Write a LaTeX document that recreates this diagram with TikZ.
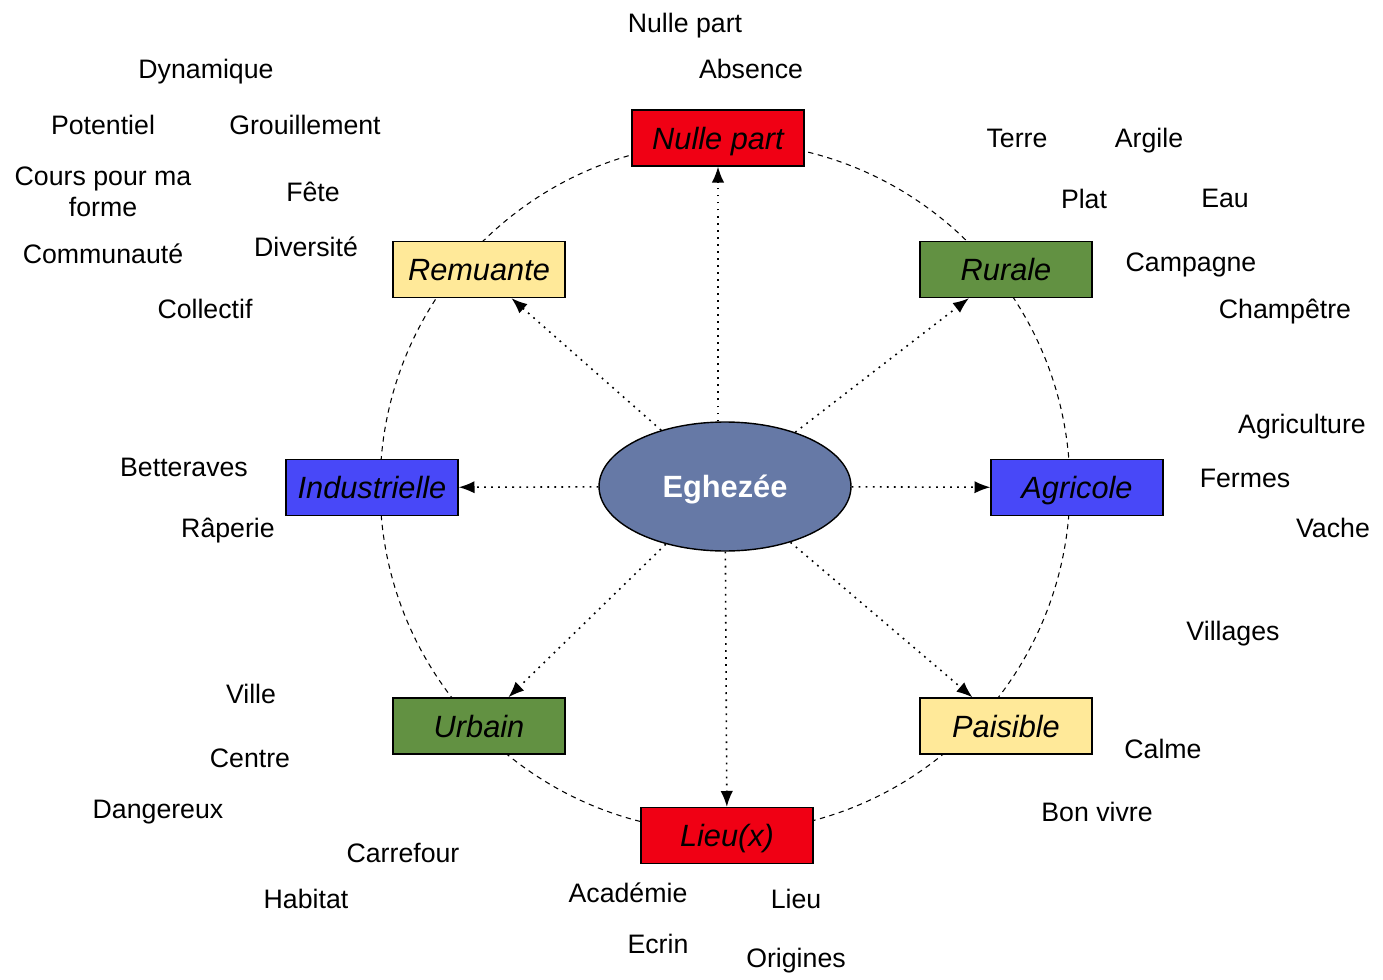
\documentclass[tikz,border=0pt]{standalone}
\usepackage{fontspec}
\setmainfont{Liberation Sans}
\usetikzlibrary{arrows.meta,shapes.geometric}
\definecolor{boxred}{RGB}{240,0,20}
\definecolor{boxyellow}{RGB}{255,233,153}
\definecolor{boxgreen}{RGB}{98,145,66}
\definecolor{boxblue}{RGB}{72,72,248}
\definecolor{blobblue}{RGB}{102,121,166}

\begin{document}
\begin{tikzpicture}[x=0.02cm, y=-0.02cm,
  theme/.style={draw=black, line width=0.8pt, minimum width=3.44cm, minimum height=1.12cm,
    inner sep=0pt, text height=12.6pt, text depth=0pt, font=\fontsize{17.5}{20}\selectfont\itshape},
  lbl/.style={anchor=base, inner sep=0pt, font=\fontsize{15.2}{17.6}\selectfont},
  ring/.style={line width=0.6pt, dash pattern=on 3pt off 2.6pt},
  link/.style={line width=0.9pt, dash pattern=on 1pt off 3pt,
    -{Latex[length=9pt,width=7pt]}}]
\useasboundingbox (0,0) rectangle (1383,980);
\coordinate (mid) at (725,487);
\draw[ring] (mid) circle [radius=6.9cm];

\node[ellipse, draw=black, line width=0.8pt, fill=blobblue, minimum width=5.04cm, minimum height=2.58cm,
  text height=12.6pt, text depth=0pt, font=\fontsize{17.5}{20}\selectfont\bfseries, text=white] (eg) at (725,486.5) {Eghezée};
\node[theme, fill=boxred] (nul) at (718,138) {Nulle part};
\node[theme, fill=boxyellow] (rem) at (479,269.5) {Remuante};
\node[theme, fill=boxgreen] (rur) at (1006,269.5) {Rurale};
\node[theme, fill=boxblue] (ind) at (372,487.5) {Industrielle};
\node[theme, fill=boxblue] (agr) at (1077,487.5) {Agricole};
\node[theme, fill=boxgreen] (urb) at (479,726) {Urbain};
\node[theme, fill=boxyellow] (pai) at (1006,726) {Paisible};
\node[theme, fill=boxred] (lie) at (727,835.5) {Lieu(x)};

\draw[link] (eg.north -| nul) -- (nul);
\foreach \t in {rem,rur,ind,agr,urb,pai,lie}
  \draw[link] (eg) -- (\t);

\node[lbl] (nulw) at (685,33) {Nulle part};
\node[lbl] (abs) at (751,79) {Absence};
\node[lbl] (dyn) at (206,79) {Dynamique};
\node[lbl] (pot) at (103,134) {Potentiel};
\node[lbl] (grou) at (305,134) {Grouillement};
\node[lbl, anchor=center, align=center] (cours) at (103,192) {Cours pour ma\\forme};
\node[lbl] (fete) at (313,201) {Fête};
\node[lbl] (comm) at (103,263) {Communauté};
\node[lbl] (div) at (306,256) {Diversité};
\node[lbl] (coll) at (205,318) {Collectif};
\node[lbl] (ter) at (1017,148) {Terre};
\node[lbl] (arg) at (1149,148) {Argile};
\node[lbl] (plat) at (1084,208) {Plat};
\node[lbl] (eau) at (1225,207) {Eau};
\node[lbl] (camp) at (1191,271) {Campagne};
\node[lbl] (cham) at (1285,318) {Champêtre};
\node[lbl] (agri) at (1302,433) {Agriculture};
\node[lbl] (ferm) at (1245,487) {Fermes};
\node[lbl] (vach) at (1333,537) {Vache};
\node[lbl] (vill) at (1233,640) {Villages};
\node[lbl] (bett) at (184,476) {Betteraves};
\node[lbl] (rap) at (228,537) {Râperie};
\node[lbl] (ville) at (251,703) {Ville};
\node[lbl] (cent) at (250,767) {Centre};
\node[lbl] (dang) at (158,818) {Dangereux};
\node[lbl] (carr) at (403,862) {Carrefour};
\node[lbl] (hab) at (306,908) {Habitat};
\node[lbl] (calm) at (1163,758) {Calme};
\node[lbl] (bon) at (1097,821) {Bon vivre};
\node[lbl] (acad) at (628,902) {Académie};
\node[lbl] (lieu) at (796,908) {Lieu};
\node[lbl] (ecr) at (658,953) {Ecrin};
\node[lbl] (orig) at (796,967) {Origines};
\end{tikzpicture}
\end{document}
